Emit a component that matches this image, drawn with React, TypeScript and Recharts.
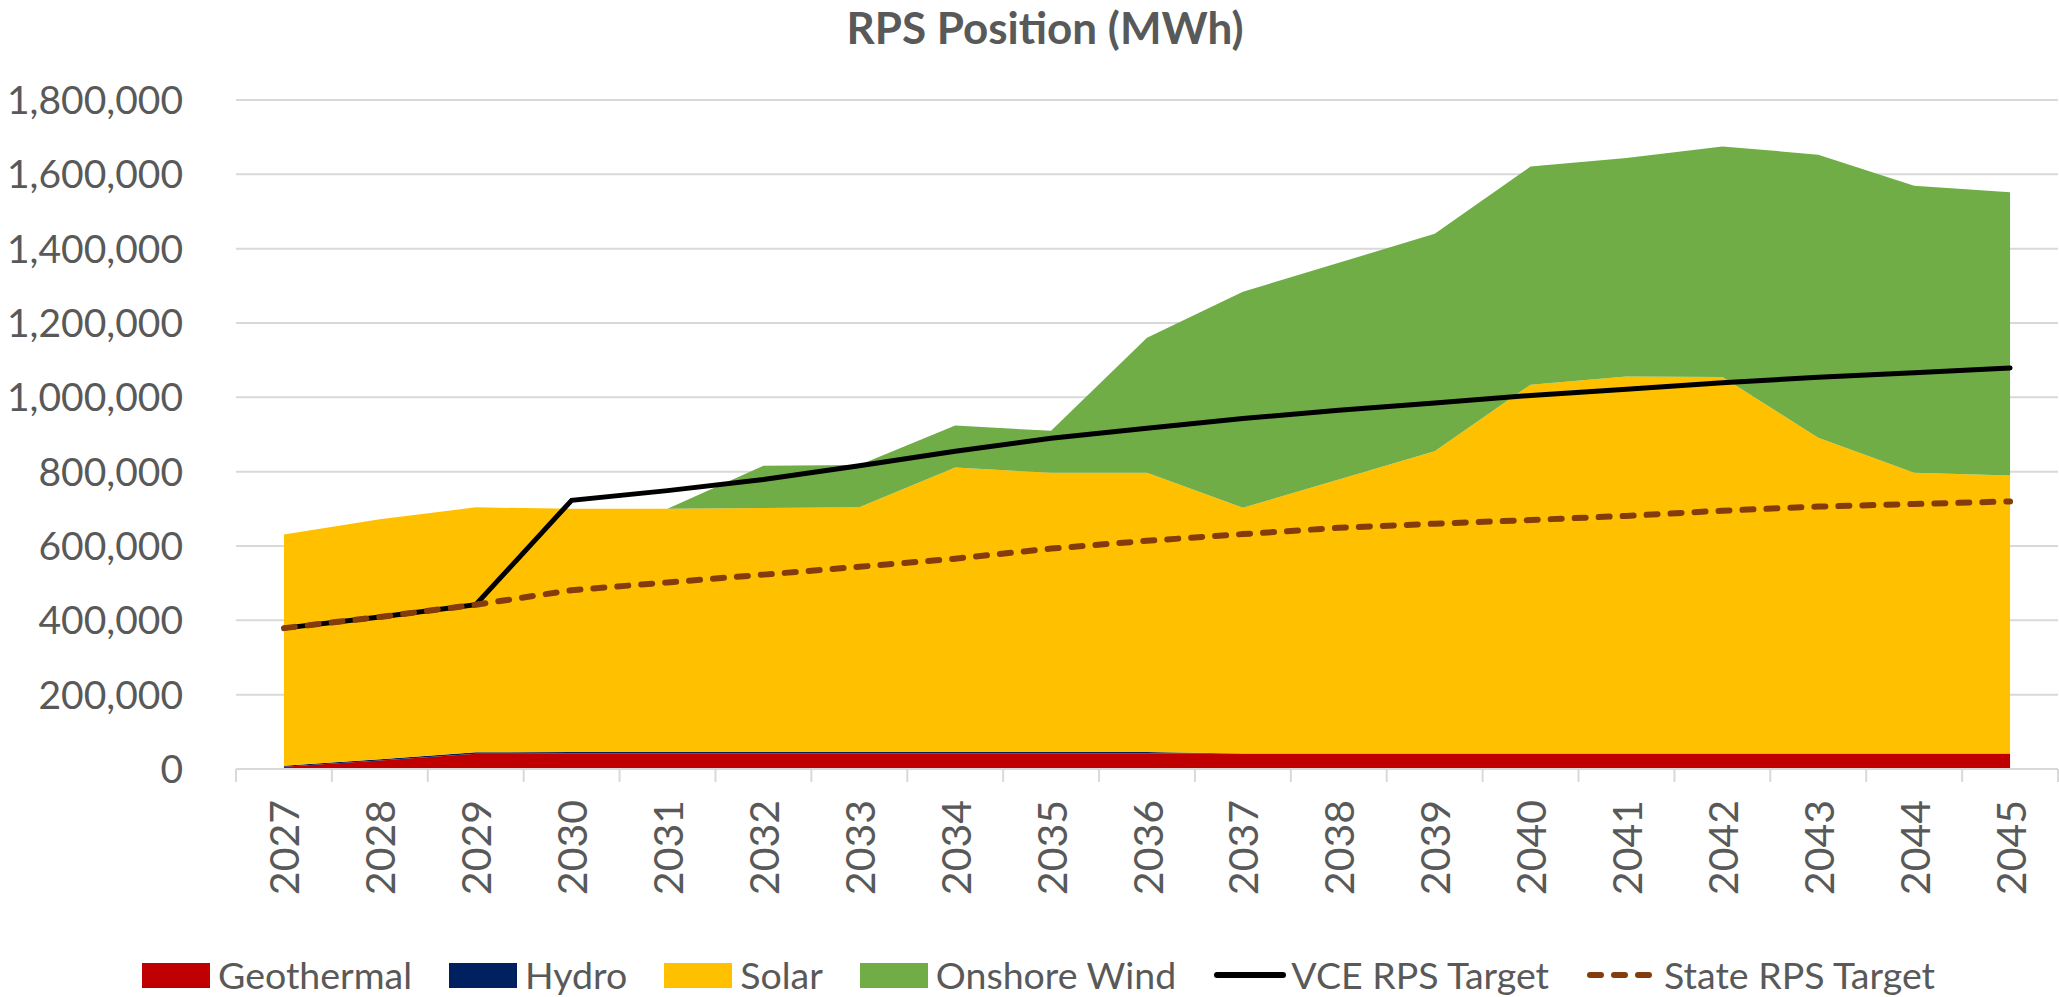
import React from "react";
import {
  ComposedChart,
  Area,
  Line,
  XAxis,
  YAxis,
  CartesianGrid,
} from "recharts";

const YEARS = [
  "2027", "2028", "2029", "2030", "2031", "2032", "2033", "2034", "2035", "2036",
  "2037", "2038", "2039", "2040", "2041", "2042", "2043", "2044", "2045",
];

const GEOTHERMAL = [
  6000, 23000, 41000, 42000, 42000, 42000, 42000, 42000, 42000, 42000,
  42000, 42000, 42000, 42000, 42000, 42000, 42000, 42000, 42000,
];
const HYDRO = [
  3000, 3500, 4000, 4000, 4000, 4000, 4000, 4000, 4000, 4000,
  0, 0, 0, 0, 0, 0, 0, 0, 0,
];
const SOLAR = [
  622000, 645500, 659000, 654000, 654000, 656000, 658000, 765000, 751000, 751000,
  661000, 737000, 813000, 992000, 1014000, 1013000, 849000, 755000, 748000,
];
const ONSHORE_WIND = [
  0, 0, 0, 0, 0, 114000, 114000, 113000, 113000, 363000,
  581000, 583000, 585000, 587000, 588000, 620000, 762000, 772000, 762000,
];
const VCE_TARGET = [
  379000, 409000, 442000, 723000, 749000, 779000, 816000, 855000, 890000, 917000,
  943000, 965000, 985000, 1005000, 1022000, 1039000, 1054000, 1066000, 1079000,
];
const STATE_TARGET = [
  379000, 409000, 442000, 481000, 502000, 523000, 544000, 566000, 593000, 614000,
  632000, 649000, 660000, 670000, 681000, 695000, 706000, 713000, 720000,
];
const Y_TICKS = [0, 200000, 400000, 600000, 800000, 1000000, 1200000, 1400000, 1600000, 1800000];

const data = YEARS.map((year, i) => ({
  year,
  geothermal: GEOTHERMAL[i],
  hydro: HYDRO[i],
  solar: SOLAR[i],
  wind: ONSHORE_WIND[i],
  vce: VCE_TARGET[i],
  state: STATE_TARGET[i],
}));

const W = 2059;
const H = 997;
const PLOT_LEFT = 236;
const PLOT_RIGHT = 1;
const BAND = (W - PLOT_LEFT - PLOT_RIGHT) / YEARS.length;
const FONT = "Lato, 'Open Sans', sans-serif";
const TEXT = "#595959";
const GRID = "#D9D9D9";

const COLORS = {
  geothermal: "#C00000",
  hydro: "#002060",
  solar: "#FFC000",
  wind: "#70AD47",
  vce: "#000000",
  state: "#843C0C",
};

// excel-style category ticks sit between the points, labels read bottom-to-top
function YearTick(props: any) {
  const { x, y, payload, index } = props;
  const axisY = y - 31;
  return (
    <g>
      <line x1={x - BAND / 2} x2={x - BAND / 2} y1={axisY} y2={axisY + 13} stroke={GRID} strokeWidth={2} />
      {index === YEARS.length - 1 && (
        <line x1={x + BAND / 2} x2={x + BAND / 2} y1={axisY} y2={axisY + 13} stroke={GRID} strokeWidth={2} />
      )}
      <text
        x={x}
        y={y}
        transform={`rotate(-90, ${x}, ${y})`}
        textAnchor="end"
        dominantBaseline="central"
        fontFamily={FONT}
        fontSize={41}
        fill={TEXT}
      >
        {payload.value}
      </text>
    </g>
  );
}

const legendItems = [
  { label: "Geothermal", color: COLORS.geothermal, kind: "box" },
  { label: "Hydro", color: COLORS.hydro, kind: "box" },
  { label: "Solar", color: COLORS.solar, kind: "box" },
  { label: "Onshore Wind", color: COLORS.wind, kind: "box" },
  { label: "VCE RPS Target", color: COLORS.vce, kind: "line" },
  { label: "State RPS Target", color: COLORS.state, kind: "dash" },
];

function LegendRow() {
  return (
    <div
      style={{
        position: "absolute",
        top: 950,
        left: 142,
        display: "flex",
        alignItems: "center",
        fontFamily: FONT,
        fontSize: 37.5,
        color: TEXT,
        lineHeight: "50px",
        whiteSpace: "nowrap",
      }}
    >
      {legendItems.map((item) => (
        <div key={item.label} style={{ display: "flex", alignItems: "center", marginRight: 37 }}>
          {item.kind === "box" ? (
            <div style={{ width: 68, height: 25, background: item.color, marginRight: 8 }} />
          ) : (
            <svg width={74} height={12} style={{ marginRight: 4 }}>
              <line
                x1={4}
                x2={70}
                y1={6}
                y2={6}
                stroke={item.color}
                strokeWidth={6}
                strokeLinecap="round"
                strokeDasharray={item.kind === "dash" ? "11 13" : undefined}
              />
            </svg>
          )}
          <span>{item.label}</span>
        </div>
      ))}
    </div>
  );
}

export default function App() {
  return (
    <div style={{ position: "relative", width: W, height: H, background: "#fff" }}>
      <style>{"body{margin:0}"}</style>
      <div
        style={{
          position: "absolute",
          top: 5,
          left: 0,
          width: 2090,
          textAlign: "center",
          fontFamily: FONT,
          fontWeight: 700,
          fontSize: 44,
          lineHeight: "44px",
          color: TEXT,
        }}
      >
        RPS Position (MWh)
      </div>
      <ComposedChart
        width={W}
        height={H}
        data={data}
        margin={{ top: 100, right: PLOT_RIGHT, left: 0, bottom: 98 }}
      >
        <CartesianGrid vertical={false} stroke={GRID} strokeWidth={2} />
        <XAxis
          dataKey="year"
          interval={0}
          height={130}
          padding={{ left: BAND / 2, right: BAND / 2 }}
          axisLine={{ stroke: GRID, strokeWidth: 2 }}
          tickLine={false}
          tickSize={13}
          tickMargin={18}
          tick={<YearTick />}
        />
        <YAxis
          width={PLOT_LEFT}
          domain={[0, 1800000]}
          ticks={Y_TICKS}
          axisLine={false}
          tickLine={false}
          tickSize={0}
          tickMargin={53}
          tickFormatter={(v: number) => v.toLocaleString("en-US")}
          tick={{ fontFamily: FONT, fontSize: 39, fill: TEXT }}
        />
        <Area type="linear" dataKey="geothermal" stackId="rps" stroke="none" fill={COLORS.geothermal} fillOpacity={1} isAnimationActive={false} />
        <Area type="linear" dataKey="hydro" stackId="rps" stroke="none" fill={COLORS.hydro} fillOpacity={1} isAnimationActive={false} />
        <Area type="linear" dataKey="solar" stackId="rps" stroke="none" fill={COLORS.solar} fillOpacity={1} isAnimationActive={false} />
        <Area type="linear" dataKey="wind" stackId="rps" stroke="none" fill={COLORS.wind} fillOpacity={1} isAnimationActive={false} />
        <Line type="linear" dataKey="vce" stroke={COLORS.vce} strokeWidth={5} dot={false} strokeLinecap="round" isAnimationActive={false} />
        <Line
          type="linear"
          dataKey="state"
          stroke={COLORS.state}
          strokeWidth={6}
          strokeDasharray="11 13"
          strokeLinecap="round"
          dot={false}
          isAnimationActive={false}
        />
      </ComposedChart>
      <LegendRow />
    </div>
  );
}
